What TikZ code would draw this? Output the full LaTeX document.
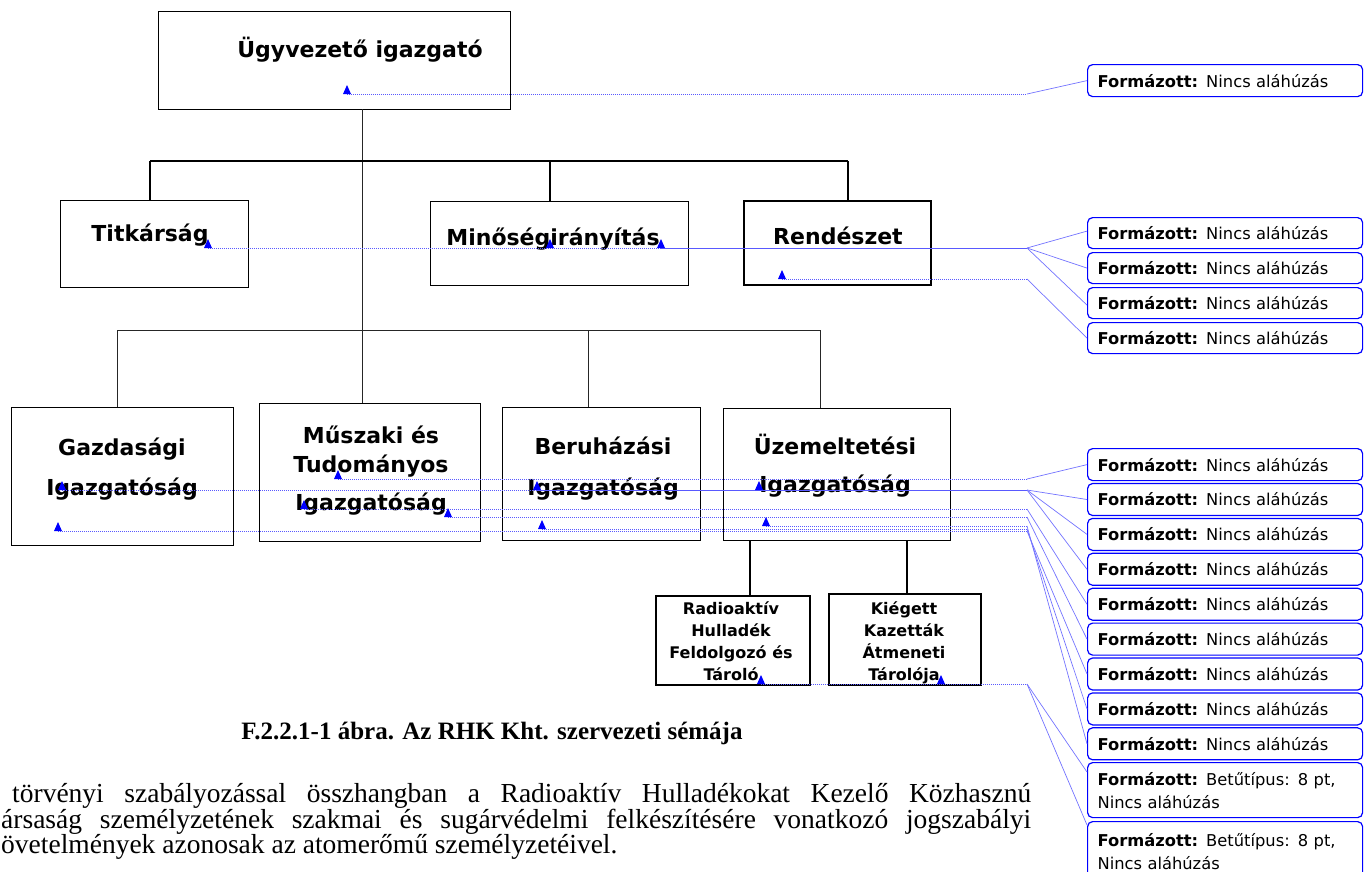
\documentclass[tikz,border=0pt]{standalone}
\usepackage{fontspec}
\setmainfont{DejaVu Sans}
\newfontfamily\tnr{Liberation Serif}
\begin{document}
\begin{tikzpicture}[x=1pt,y=-1pt,
  orgbox/.style={draw=black, line width=1.3pt, inner sep=0pt, anchor=north west, fill=none},
  btxt/.style={font=\fontsize{22}{40}\selectfont\bfseries, inner sep=0pt, align=center, anchor=base},
  stxt/.style={font=\fontsize{16}{22}\selectfont\bfseries, inner sep=0pt, align=center, anchor=base},
  cmtbox/.style={draw=blue, line width=1.2pt, rounded corners=5pt, anchor=north west,
    minimum width=275pt, text width=255pt, inner xsep=10pt, inner ysep=0pt, align=left,
    font=\fontsize{16.3}{23}\selectfont, fill=white},
  thickln/.style={line width=2pt, black},
  thinln/.style={line width=1pt, black!85},
  dotln/.style={blue!65, line width=0.8pt, dash pattern=on 1pt off 1pt},
  fanln/.style={blue!55, line width=0.7pt},
  bodytxt/.style={anchor=base west, inner sep=0pt, font=\tnr\fontsize{27.5}{26}\selectfont},
]
\useasboundingbox (0,0) rectangle (1365,871);
\clip (0,0) rectangle (1365,871);
\newcommand\mkr[1]{\fill[blue] ([xshift=-4pt]#1) -- ([xshift=4pt]#1) -- ([yshift=9pt]#1) -- cycle;}

% ---- org boxes
\node[orgbox, minimum width=352pt, minimum height=98pt] (ceo) at (158,11) {};
\node[btxt] (ceoT) at (360,57) {Ügyvezető igazgató};

\node[orgbox, minimum width=188pt, minimum height=87pt] (tit) at (60,200) {};
\node[btxt] (titT) at (150,241) {Titkárság};
\node[orgbox, line width=1pt, minimum width=258pt, minimum height=84pt] (min) at (430,201) {};
\node[btxt] (minT) at (553,245) {Minőségirányítás};
\node[orgbox, line width=2.2pt, minimum width=187pt, minimum height=84pt] (ren) at (743,200) {};
\node[btxt] (renT) at (838,244) {Rendészet};

\node[orgbox, minimum width=222pt, minimum height=138pt] (gaz) at (11,407) {};
\node[btxt] (gazT) at (122,495) {Gazdasági\\Igazgatóság};
\node[orgbox, minimum width=221pt, minimum height=138pt] (mus) at (259,403) {};
\node[btxt, font=\fontsize{22}{29}\selectfont\bfseries] (musT) at (371,510) {Műszaki és\\Tudományos\\[9pt]Igazgatóság};
\node[orgbox, minimum width=198pt, minimum height=133pt] (ber) at (502,407) {};
\node[btxt, font=\fontsize{22}{41}\selectfont\bfseries] (berT) at (603,495) {Beruházási\\Igazgatóság};
\node[orgbox, minimum width=227pt, minimum height=132pt] (uze) at (723,408) {};
\node[btxt, font=\fontsize{22}{38}\selectfont\bfseries] (uzeT) at (835,492) {Üzemeltetési\\Igazgatóság};

\node[orgbox, line width=2pt, minimum width=154pt, minimum height=89pt] (rad) at (655,595) {};
\node[stxt] (radT) at (731,680) {Radioaktív\\Hulladék\\Feldolgozó és\\Tároló};
\node[orgbox, line width=2pt, minimum width=152pt, minimum height=91pt] (kie) at (828,593) {};
\node[stxt] (kieT) at (904,680) {Kiégett\\Kazetták\\Átmeneti\\Tárolója};

% ---- connectors
\coordinate (trunk) at (362,109);
\draw[thinln] (trunk) -- (trunk |- mus.north);
\coordinate (ubL) at (150,161);
\coordinate (ubM) at (550,161);
\coordinate (ubR) at (848,161);
\draw[thickln] (ubL) -- (ubR);
\draw[thickln] (ubL) -- (ubL |- tit.north);
\draw[thickln] (ubM) -- (ubM |- min.north);
\draw[thickln] (ubR) -- (ubR |- ren.north);
\coordinate (lbA) at (117,330);
\coordinate (lbC) at (588,330);
\coordinate (lbD) at (820,330);
\draw[thinln] (lbA) -- (lbD);
\draw[thinln] (lbA) -- (lbA |- gaz.north);
\draw[thinln] (lbC) -- (lbC |- ber.north);
\draw[thinln] (lbD) -- (lbD |- uze.north);
\coordinate (uzA) at (750,541);
\coordinate (uzB) at (907,541);
\draw[thickln] (uzA) -- (uzA |- rad.north);
\draw[thickln] (uzB) -- (uzB |- kie.north);

% ---- comment balloons
\node[cmtbox, minimum height=32pt] (c0) at (1087,64) {\textbf{Formázott:} Nincs aláhúzás};
\foreach \i/\t in {1/217,2/252,3/287,4/322}{
  \node[cmtbox, minimum height=31pt] (c\i) at (1087,\t) {\textbf{Formázott:} Nincs aláhúzás};
}
\foreach \i/\t in {1/448,2/482.9,3/517.8,4/552.7,5/587.6,6/622.5,7/657.4,8/692.3,9/727.2}{
  \node[cmtbox, minimum height=32pt] (d\i) at (1087,\t) {\textbf{Formázott:} Nincs aláhúzás};
}
\node[cmtbox, minimum height=55pt] (d10) at (1087,762) {\textbf{Formázott:} Betűtípus: 8 pt,\\Nincs aláhúzás};
\node[cmtbox, minimum height=60pt] (d11) at (1087,821) {\textbf{Formázott:} Betűtípus: 8 pt,\\Nincs aláhúzás};

% ---- markers and dotted leader lines
\coordinate (m0) at (347,94);   \coordinate (f0) at (1027,94);
\coordinate (m1) at (208,248);  \coordinate (m2) at (550,248); \coordinate (m3) at (661,248);
\coordinate (f1) at (1027,248);
\coordinate (m4) at (782,279);  \coordinate (f4) at (1027,279);
\coordinate (n1) at (338,479);  \coordinate (g1) at (1027,479);
\coordinate (n2) at (62,490);   \coordinate (n3) at (537,490); \coordinate (n4) at (759,490);
\coordinate (g2) at (1027,490);
\coordinate (n5) at (304,509);  \coordinate (g5) at (1027,509);
\coordinate (n6) at (448,517);  \coordinate (g6) at (1027,517);
\coordinate (n7) at (58,531);   \coordinate (g7) at (1027,531);
\coordinate (n8) at (542,529);  \coordinate (g8) at (1027,529);
\coordinate (n9) at (766,526);  \coordinate (g9) at (1027,526);
\coordinate (n10) at (761,684); \coordinate (n11) at (941,684);
\coordinate (g10) at (1027,684);

\draw[dotln] (m0) -- (f0);
\draw[fanln] (f0) -- (c0.west);
\draw[dotln] (m1) -- (f1);
\draw[dotln] (m2) -- (f1);
\draw[dotln] (m3) -- (f1);
\draw[fanln] (f1) -- ([yshift=2pt]c1.west);
\draw[fanln] (f1) -- (c2.west);
\draw[fanln] (f1) -- ([yshift=-2pt]c3.west);
\draw[dotln] (m4) -- (f4);
\draw[fanln] (f4) -- (c4.west);
\draw[dotln] (n1) -- (g1);
\draw[fanln] (g1) -- (d1.west);
\draw[dotln] (n2) -- (g2);
\draw[dotln] (n3) -- (g2);
\draw[dotln] (n4) -- (g2);
\draw[fanln] (g2) -- (d2.west);
\draw[fanln] (g2) -- (d3.west);
\draw[fanln] (g2) -- (d4.west);
\draw[dotln] (n5) -- (g5);
\draw[fanln] (g5) -- (d5.west);
\draw[dotln] (n6) -- (g6);
\draw[fanln] (g6) -- (d6.west);
\draw[dotln] (n7) -- (g7);
\draw[fanln] (g7) -- (d7.west);
\draw[dotln] (n8) -- (g8);
\draw[fanln] (g8) -- (d8.west);
\draw[dotln] (n9) -- (g9);
\draw[fanln] (g9) -- (d9.west);
\draw[dotln] (n10) -- (g10);
\draw[dotln] (n11) -- (g10);
\draw[fanln] (g10) -- ([yshift=-10pt]d10.north west);
\draw[fanln] (g10) -- ([yshift=-4pt]d11.north west);

\foreach \m in {m0,m1,m2,m3,m4,n1,n2,n3,n4,n5,n6,n7,n8,n9,n10,n11}{\mkr{\m}}

% ---- caption and body text
\node[anchor=base, inner sep=0pt, font=\tnr\fontsize{25}{26}\selectfont\bfseries] (cap) at (492,739) {F.2.2.1-1 ábra. Az RHK Kht. szervezeti sémája};
\node[bodytxt] (p1) at (12,802) {\hbox to 1019pt{törvényi szabályozással összhangban a Radioaktív Hulladékokat Kezelő Közhasznú}};
\node[bodytxt] (p2) at (1,828) {\hbox to 1030pt{ársaság személyzetének szakmai és sugárvédelmi felkészítésére vonatkozó jogszabályi}};
\node[bodytxt] (p3) at (1,853) {övetelmények azonosak az atomerőmű személyzetéivel.};
\end{tikzpicture}
\end{document}
